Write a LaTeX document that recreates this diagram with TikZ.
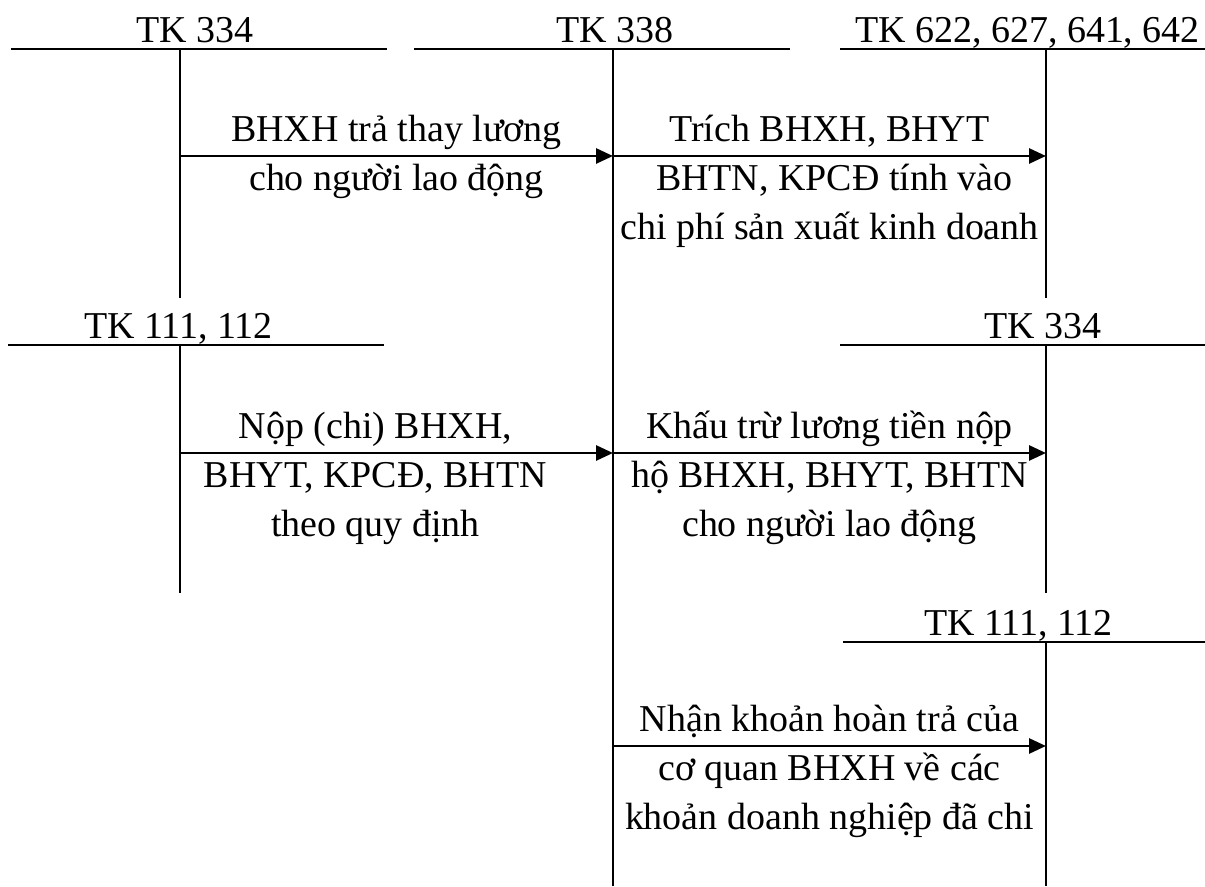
\documentclass[tikz,border=0pt]{standalone}
\usepackage{fontspec}
\setmainfont{Liberation Serif}
\usetikzlibrary{arrows.meta}

\begin{document}
\begin{tikzpicture}[line width=1.6pt,
  every node/.style={font=\fontsize{21.6}{27.9}\selectfont, inner sep=0pt},
  acc/.style={anchor=base},
  note/.style={anchor=base, align=center},
  arr/.style={-{Triangle[length=0.34cm,width=0.3cm]}}]
\useasboundingbox (0,0) rectangle (24.1,17.72);

% tai khoan hang tren
\draw (0.22,16.74) -- (7.74,16.74);
\draw (8.28,16.74) -- (15.8,16.74);
\draw (16.8,16.74) -- (24.1,16.74);
\node[acc] (tk334) at (3.9,16.86) {TK 334};
\node[acc] (tk338) at (12.3,16.86) {TK 338};
\node[acc] (tk622) at (20.55,16.86) {TK 622, 627, 641, 642};
\draw (3.6,16.74) coordinate (v334) -- (3.6,11.76);
\draw (12.26,16.74) coordinate (v338) -- (12.26,0);%TK 338 chay het xuong duoi
\draw (20.92,16.74) coordinate (v622) -- (20.92,11.76);

% tai khoan hang giua
\draw (0.16,10.82) -- (7.68,10.82);
\draw (16.8,10.82) -- (24.1,10.82);
\node[acc] (tk111a) at (3.57,10.94) {TK 111, 112};
\node[acc] (tk334b) at (20.86,10.94) {TK 334};
\draw (3.6,10.82) coordinate (v111a) -- (3.6,5.86);
\draw (20.92,10.82) coordinate (v334b) -- (20.92,5.86);

% tai khoan hang duoi
\draw (16.86,4.88) -- (24.1,4.88);
\node[acc] (tk111b) at (20.37,5.0) {TK 111, 112};
\draw (20.92,4.88) coordinate (v111b) -- (20.92,0);

% diem dau, diem cuoi cac mui ten
\coordinate (p1) at (3.6,14.6);   \coordinate (q1) at (12.26,14.6);
\coordinate (p2) at (12.26,14.6); \coordinate (q2) at (20.92,14.6);
\coordinate (p3) at (3.6,8.66);   \coordinate (q3) at (12.26,8.66);
\coordinate (p4) at (12.26,8.66); \coordinate (q4) at (20.92,8.66);
\coordinate (p5) at (12.26,2.8);  \coordinate (q5) at (20.92,2.8);

% base = dong cuoi, nen dich xuong
\draw[arr] (p1) -- (q1) node[note, midway, yshift=-0.70cm] (n1)
  {BHXH trả thay lương\\cho người lao động};
\draw[arr] (p2) -- (q2) node[note, midway, yshift=-1.68cm] (n2)
  {Trích BHXH, BHYT\\ \ BHTN, KPCĐ tính vào\\chi phí sản xuất kinh doanh};
\draw[arr] (p3) -- (q3) node[note, midway, yshift=-1.68cm, xshift=-0.42cm] (n3)
  {Nộp (chi) BHXH,\\BHYT, KPCĐ, BHTN\\theo quy định};
\draw[arr] (p4) -- (q4) node[note, midway, yshift=-1.68cm] (n4)
  {Khấu trừ lương tiền nộp\\hộ BHXH, BHYT, BHTN\\cho người lao động};
\draw[arr] (p5) -- (q5) node[note, midway, yshift=-1.68cm] (n5)
  {Nhận khoản hoàn trả của\\cơ quan BHXH về các\\khoản doanh nghiệp đã chi};
\end{tikzpicture}
\end{document}
